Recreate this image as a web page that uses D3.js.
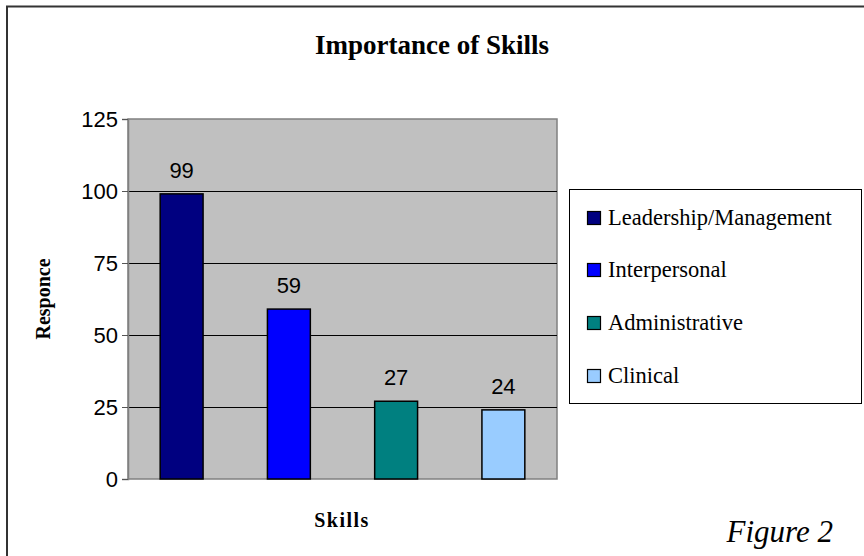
<!DOCTYPE html>
<html>
<head>
<meta charset="utf-8">
<script src="https://cdn.jsdelivr.net/npm/d3@7"></script>
<style>
  body { margin: 0; background: #fff; }
  svg { display: block; }
</style>
</head>
<body>
<div id="chart-area"></div>
<script>
var skills = ["Leadership/Management", "Interpersonal", "Administrative", "Clinical"];
var responses = [99, 59, 27, 24];
var colors = ["#000080", "#0000ff", "#008080", "#99ccff"];
var yTicks = [0, 25, 50, 75, 100, 125];

var width = 864;
var height = 556;

var svg = d3.select("#chart-area")
    .append("svg")
    .attr("width", width)
    .attr("height", height);

// outer frame (runs off the right and bottom edges)
svg.append("rect")
    .attr("x", 7)
    .attr("y", 6.5)
    .attr("width", 900)
    .attr("height", 600)
    .attr("fill", "#fff")
    .attr("stroke", "#333")
    .attr("stroke-width", 2);

svg.append("text")
    .attr("x", 432)
    .attr("y", 54)
    .attr("text-anchor", "middle")
    .attr("font-family", "Liberation Serif, Times New Roman, serif")
    .attr("font-weight", "bold")
    .attr("font-size", "27px")
    .text("Importance of Skills");

var plot = { left: 128, top: 119, right: 557, bottom: 479 };

var x = d3.scaleBand()
    .domain(skills)
    .range([plot.left, plot.right])
    .paddingInner(0.6)
    .paddingOuter(0.3);

var y = d3.scaleLinear()
    .domain([0, 125])
    .range([plot.bottom, plot.top]);

var g = svg.append("g");

g.append("rect")
    .attr("x", plot.left)
    .attr("y", plot.top)
    .attr("width", plot.right - plot.left)
    .attr("height", plot.bottom - plot.top)
    .attr("fill", "#c0c0c0")
    .attr("stroke", "#808080")
    .attr("stroke-width", 1.5);

// gridlines
g.selectAll(".grid")
    .data(yTicks.slice(1, -1))
    .enter()
    .append("line")
    .attr("class", "grid")
    .attr("x1", plot.left)
    .attr("x2", plot.right)
    .attr("y1", function(d) { return Math.round(y(d)) + 0.5; })
    .attr("y2", function(d) { return Math.round(y(d)) + 0.5; })
    .attr("stroke", "#000")
    .attr("stroke-width", 1);

// y axis
var yAxisCall = d3.axisLeft(y)
    .tickValues(yTicks)
    .tickSize(6)
    .tickPadding(4);

var yAxisGroup = g.append("g")
    .attr("transform", "translate(" + plot.left + ",0)")
    .call(yAxisCall);

yAxisGroup.attr("font-size", null);
yAxisGroup.selectAll("text")
    .attr("font-family", "Liberation Sans, Arial, sans-serif")
    .attr("font-size", "22px")
    .attr("fill", "#000");
yAxisGroup.selectAll("line").attr("stroke", "#555");
yAxisGroup.select(".domain").attr("stroke", "#808080").attr("stroke-width", 1.5);

// bars
g.selectAll(".bar")
    .data(responses)
    .enter()
    .append("rect")
    .attr("class", "bar")
    .attr("x", function(d, i) { return x(skills[i]); })
    .attr("y", function(d) { return y(d); })
    .attr("width", x.bandwidth())
    .attr("height", function(d) { return plot.bottom - y(d); })
    .attr("fill", function(d, i) { return colors[i]; })
    .attr("stroke", "#000")
    .attr("stroke-width", 1.5);

g.selectAll(".val")
    .data(responses)
    .enter()
    .append("text")
    .attr("class", "val")
    .attr("x", function(d, i) { return x(skills[i]) + x.bandwidth() / 2; })
    .attr("y", function(d) { return y(d) - 16; })
    .attr("text-anchor", "middle")
    .attr("font-family", "Liberation Sans, Arial, sans-serif")
    .attr("font-size", "22px")
    .text(function(d) { return d; });

// axis labels
svg.append("text")
    .attr("x", 342)
    .attr("y", 527)
    .attr("text-anchor", "middle")
    .attr("font-family", "Liberation Serif, Times New Roman, serif")
    .attr("font-weight", "bold")
    .attr("font-size", "20px")
    .attr("letter-spacing", "1.5px")
    .text("Skills");

svg.append("text")
    .attr("transform", "translate(50," + ((plot.top + plot.bottom) / 2) + ") rotate(-90)")
    .attr("text-anchor", "middle")
    .attr("font-family", "Liberation Serif, Times New Roman, serif")
    .attr("font-weight", "bold")
    .attr("font-size", "20px")
    .text("Responce");

// legend
var legend = svg.append("g");
legend.append("rect")
    .attr("x", 569.5)
    .attr("y", 189.5)
    .attr("width", 292)
    .attr("height", 214)
    .attr("fill", "#fff")
    .attr("stroke", "#000")
    .attr("stroke-width", 1);

var rowY = [218, 270, 323, 376];
var items = legend.selectAll(".item")
    .data(skills)
    .enter()
    .append("g")
    .attr("class", "item")
    .attr("transform", function(d, i) { return "translate(587," + rowY[i] + ")"; });

items.append("rect")
    .attr("x", 0.5)
    .attr("y", -6.5)
    .attr("width", 13)
    .attr("height", 13)
    .attr("fill", function(d, i) { return colors[i]; })
    .attr("stroke", "#000")
    .attr("stroke-width", 1.2);

items.append("text")
    .attr("x", 21)
    .attr("y", 7)
    .attr("font-family", "Liberation Serif, Times New Roman, serif")
    .attr("font-size", "22.5px")
    .text(function(d) { return d; });

svg.append("text")
    .attr("x", 833)
    .attr("y", 542)
    .attr("text-anchor", "end")
    .attr("font-family", "Liberation Serif, Times New Roman, serif")
    .attr("font-style", "italic")
    .attr("font-size", "31px")
    .text("Figure 2");
</script>
</body>
</html>
